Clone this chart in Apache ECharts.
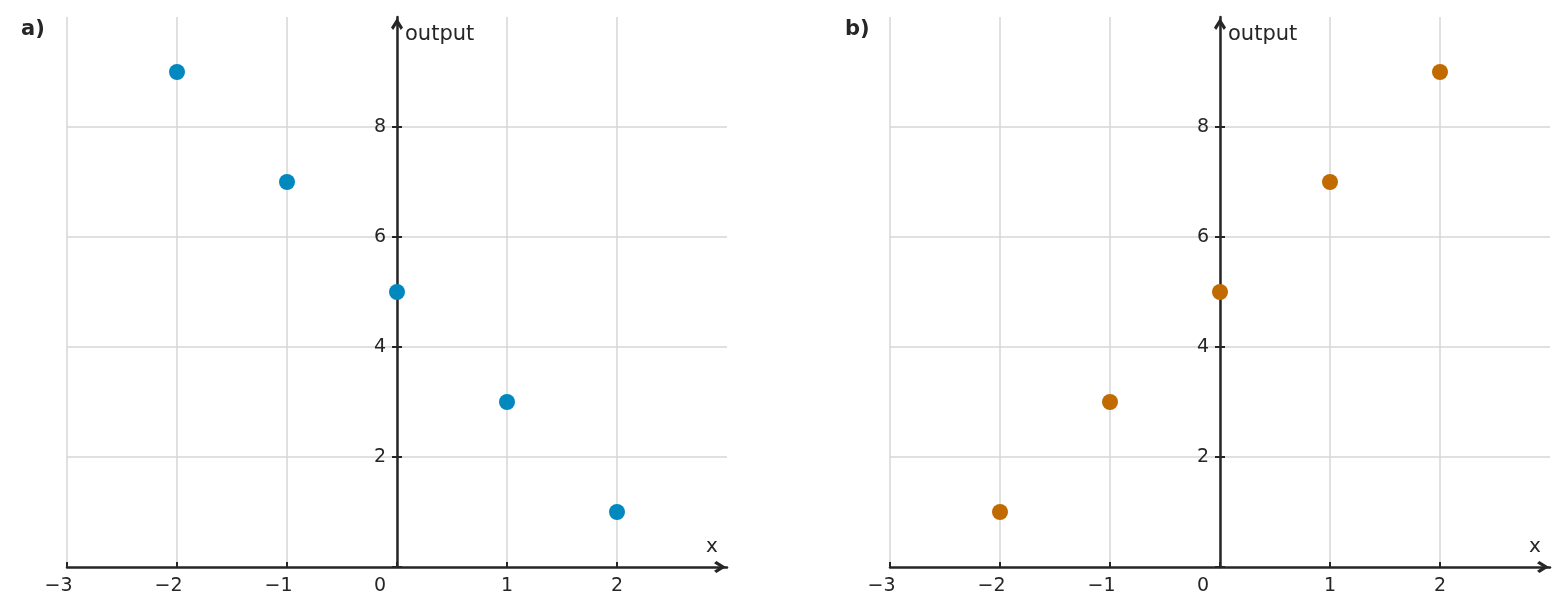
<!DOCTYPE html>
<html>
<head>
<meta charset="utf-8">
<script src="https://cdn.jsdelivr.net/npm/echarts@6/dist/echarts.min.js"></script>
<style>
  html, body { margin: 0; padding: 0; background: #fff; }
  #chart { width: 1568px; height: 615px; }
</style>
</head>
<body>
<div id="chart"></div>
<script>
var xValues = [-2, -1, 0, 1, 2];
var outputA = [9, 7, 5, 3, 1];
var outputB = [1, 3, 5, 7, 9];
var xTicks = [-3, -2, -1, 0, 1, 2];
var yTicks = [0, 2, 4, 6, 8];
var panelTitles = ['a)', 'b)'];
var pointColors = ['#0088bf', '#c06a00'];

var myChart = echarts.init(document.getElementById('chart'));

var font = 'DejaVu Sans';
var ink = '#262626';
var gridColor = '#d6d6d6';
// open chevron arrow head, tip at the top
var arrow = 'path://M5,0 L10,8 L8.2,10 L5,5 L1.8,10 L0,8 Z';

function makeX(idx) {
	return {
		type : 'value',
		gridIndex : idx,
		min : -3,
		max : 3,
		interval : 1,
		name : 'x',
		nameLocation : 'end',
		nameGap : -21,
		nameTextStyle : {
			fontFamily : font,
			fontSize : 20,
			color : ink,
			verticalAlign : 'bottom',
			padding : [ 0, 0, 10, 0 ]
		},
		axisLine : {
			onZero : false,
			symbol : [ 'none', arrow ],
			symbolSize : [ 12, 14 ],
			symbolOffset : [ 0, -7 ],
			lineStyle : { color : ink, width : 2.5 }
		},
		axisTick : {
			inside : true,
			length : 5,
			customValues : xTicks,
			lineStyle : { color : ink, width : 2 }
		},
		axisLabel : {
			fontFamily : font,
			fontSize : 19,
			color : ink,
			margin : 10,
			customValues : xTicks,
			formatter : function(v) {
				if (v === 3) return '';
				if (v === 0) return '{z|0}';
				if (v < 0) return '{n|\u2212' + (-v) + '}';
				return String(v);
			},
			rich : {
				z : { fontFamily : font, fontSize : 19, color : ink, padding : [ 0, 34, 0, 0 ] },
				n : { fontFamily : font, fontSize : 19, color : ink, padding : [ 0, 17, 0, 0 ] }
			}
		},
		splitLine : {
			show : true,
			lineStyle : {
				color : [ gridColor, gridColor, gridColor, gridColor, gridColor, gridColor, 'transparent' ],
				width : 1.5
			}
		}
	};
}

function makeY(idx) {
	return {
		type : 'value',
		gridIndex : idx,
		min : 0,
		max : 10,
		interval : 2,
		position : 'left',
		offset : -330,
		name : 'output',
		nameLocation : 'end',
		nameGap : -18,
		nameTextStyle : {
			fontFamily : font,
			fontSize : 21,
			color : ink,
			align : 'left',
			verticalAlign : 'middle',
			padding : [ 0, 0, 0, 8 ]
		},
		axisLine : {
			onZero : false,
			symbol : [ 'none', arrow ],
			symbolSize : [ 12, 14 ],
			symbolOffset : [ 0, -7 ],
			lineStyle : { color : ink, width : 2.5 }
		},
		axisTick : {
			length : 5,
			customValues : yTicks,
			lineStyle : { color : ink, width : 2 }
		},
		axisLabel : {
			fontFamily : font,
			fontSize : 19,
			color : ink,
			margin : 11,
			customValues : yTicks,
			formatter : function(v) {
				return (v === 0 || v === 10) ? '' : String(v);
			}
		},
		splitLine : {
			show : true,
			lineStyle : {
				color : [ 'transparent', gridColor, gridColor, gridColor, gridColor, 'transparent' ],
				width : 1.5
			}
		}
	};
}

// second y axis on the same spot: only the right half of the tick marks
function makeYTicks(idx) {
	return {
		type : 'value',
		gridIndex : idx,
		min : 0,
		max : 10,
		interval : 2,
		position : 'right',
		offset : -330,
		axisLine : { show : false },
		axisTick : {
			length : 5,
			customValues : yTicks,
			lineStyle : { color : ink, width : 2 }
		},
		axisLabel : { show : false },
		splitLine : { show : false }
	};
}

function pairs(ys) {
	var out = [];
	for (var i = 0; i < xValues.length; i++) {
		out.push([ xValues[i], ys[i] ]);
	}
	return out;
}

myChart.setOption({
	animation : false,
	title : [ {
		text : panelTitles[0],
		left : 16,
		top : 14,
		textStyle : { fontFamily : font, fontSize : 21, fontWeight : 'bold', color : ink }
	}, {
		text : panelTitles[1],
		left : 840,
		top : 14,
		textStyle : { fontFamily : font, fontSize : 21, fontWeight : 'bold', color : ink }
	} ],
	grid : [ {
		left : 67,
		top : 17,
		width : 660,
		height : 550
	}, {
		left : 890,
		top : 17,
		width : 660,
		height : 550
	} ],
	xAxis : [ makeX(0), makeX(1) ],
	yAxis : [ makeY(0), makeY(1), makeYTicks(0), makeYTicks(1) ],
	series : [ {
		type : 'scatter',
		xAxisIndex : 0,
		yAxisIndex : 0,
		symbolSize : 16,
		itemStyle : { color : pointColors[0], opacity : 1 },
		data : pairs(outputA)
	}, {
		type : 'scatter',
		xAxisIndex : 1,
		yAxisIndex : 1,
		symbolSize : 16,
		itemStyle : { color : pointColors[1], opacity : 1 },
		data : pairs(outputB)
	} ]
});
</script>
</body>
</html>
